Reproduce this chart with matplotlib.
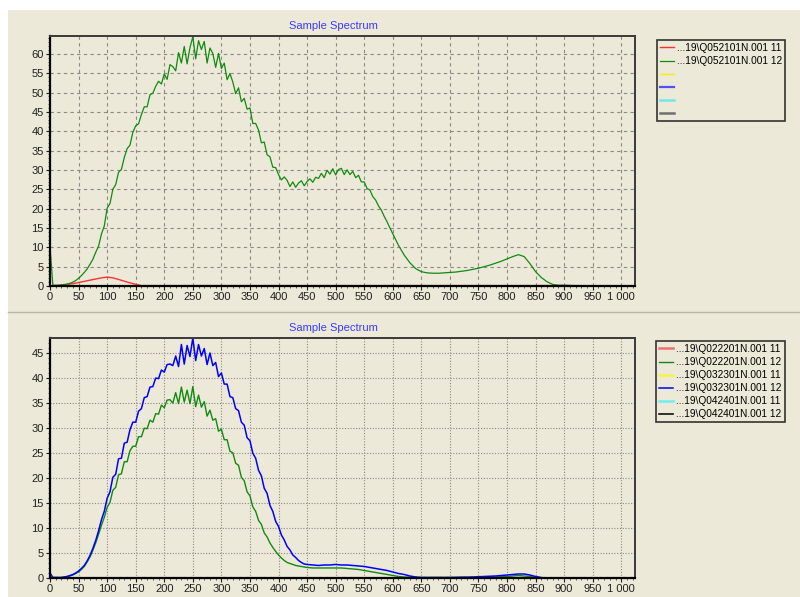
#!/usr/bin/env python3
"""Two stacked 'Sample Spectrum' panels, redrawn from a screenshot."""

import matplotlib

matplotlib.use("Agg")
import matplotlib.pyplot as plt
from matplotlib.patches import Rectangle
from matplotlib.lines import Line2D
from matplotlib.ticker import MultipleLocator, FuncFormatter

BEIGE = "#ECE9D8"

# ---------------------------------------------------------------- top panel
top_green_x = list(range(0, 605, 5)) + list(range(610, 910, 10)) + [920, 940, 960, 980, 1000, 1020]
top_green_y = [
    10.0, 0.2, 0.2, 0.2, 0.3, 0.4, 0.5, 0.7, 1.0, 1.4,
    2.0, 2.7, 3.5, 4.4, 5.6, 6.9, 8.7, 10.3, 13.4, 15.5,
    20.1, 21.3, 25.0, 26.2, 29.4, 30.1, 33.2, 35.5, 36.4, 39.7,
    41.4, 41.9, 44.3, 46.3, 46.3, 49.4, 49.8, 51.6, 52.9, 52.2,
    54.8, 53.4, 57.2, 56.7, 55.6, 60.3, 57.6, 61.9, 57.4, 61.6,
    64.4, 58.7, 63.4, 61.1, 63.2, 57.6, 61.5, 60.1, 56.5, 60.1,
    56.2, 57.6, 53.3, 54.9, 52.7, 49.7, 51.2, 47.6, 48.5, 45.7,
    46.0, 42.0, 42.0, 40.3, 37.0, 37.2, 33.9, 33.4, 30.7, 30.6,
    28.8, 27.4, 28.2, 27.3, 25.7, 26.9, 25.5, 26.6, 27.2, 25.9,
    27.0, 27.7, 26.8, 28.1, 27.8, 29.1, 28.0, 29.9, 28.9, 30.3,
    28.7, 30.1, 30.4, 28.8, 30.0, 28.8, 29.6, 28.0, 28.6, 26.9,
    26.9, 25.2, 24.8, 23.1, 22.2, 20.7, 19.6, 18.0, 16.6, 15.0,
    13.5,
    10.5, 8.0, 6.0, 4.5, 3.7, 3.4, 3.3, 3.3, 3.4, 3.5,
    3.6, 3.8, 4.0, 4.3, 4.6, 5.0, 5.4, 5.9, 6.4, 7.0,
    7.6, 8.1, 7.6, 5.8, 3.7, 2.2, 1.1, 0.4, 0.2, 0.2,
    0.1, 0.1, 0.1, 0.1, 0.1, 0.1,
]
top_red_x = [0, 20, 40, 60, 80, 90, 100, 110, 120, 140, 160, 180, 930]
top_red_y = [0.0, 0.2, 0.6, 1.2, 1.8, 2.1, 2.3, 2.1, 1.7, 0.8, 0.1, 0.1, 0.1]
top_gray_x = [0, 170]
top_gray_y = [0.0, 0.0]
top_labels = ["...19\\Q052101N.001 11", "...19\\Q052101N.001 12", "", "", "", ""]

# ------------------------------------------------------------- bottom panel
bot_blue_x = list(range(0, 455, 5)) + list(range(460, 660, 10)) + [700, 740, 760, 780, 800, 810, 820, 830, 840, 850, 860]
bot_blue_y = [
    1.0, 0.1, 0.1, 0.1, 0.1, 0.2, 0.3, 0.5, 0.7, 1.0,
    1.4, 1.9, 2.5, 3.4, 4.5, 5.9, 7.5, 9.4, 11.6, 13.3,
    15.9, 17.2, 20.1, 20.7, 23.8, 23.9, 26.9, 27.1, 29.6, 31.1,
    31.1, 33.3, 33.8, 36.0, 36.2, 38.1, 38.2, 39.9, 39.8, 41.5,
    41.1, 42.6, 42.7, 42.4, 44.3, 42.2, 46.6, 42.7, 46.4, 44.2,
    47.9, 43.4, 46.6, 44.3, 45.8, 42.6, 44.9, 42.4, 43.0, 40.2,
    40.9, 38.7, 38.7, 36.2, 36.0, 33.8, 33.4, 31.1, 30.5, 28.0,
    27.4, 24.9, 23.9, 21.5, 20.4, 17.9, 16.9, 14.5, 13.3, 11.3,
    10.3, 8.6, 7.6, 6.3, 5.6, 4.6, 4.1, 3.5, 3.1, 2.8,
    2.7,
    2.6, 2.5, 2.6, 2.6, 2.7, 2.6, 2.6, 2.5, 2.4, 2.3,
    2.1, 1.9, 1.7, 1.5, 1.2, 0.9, 0.7, 0.4, 0.2, 0.1,
    0.1, 0.2, 0.3, 0.4, 0.6, 0.7, 0.8, 0.8, 0.6, 0.3, 0.1,
]
bot_green_x = list(range(0, 455, 5)) + list(range(460, 630, 10)) + [640, 700, 760, 780, 800, 810, 820, 830, 840, 850, 860]
bot_green_y = [
    0.1, 0.1, 0.1, 0.1, 0.1, 0.2, 0.3, 0.4, 0.6, 0.9,
    1.2, 1.7, 2.3, 3.2, 4.2, 5.5, 7.0, 8.7, 10.5, 12.1,
    14.1, 15.1, 17.5, 18.1, 20.6, 20.8, 23.2, 23.2, 25.4, 26.3,
    26.3, 28.2, 28.2, 29.9, 29.8, 31.5, 31.1, 32.8, 32.7, 34.5,
    34.0, 35.5, 35.6, 34.9, 37.0, 34.8, 38.1, 35.1, 37.5, 34.8,
    38.2, 34.2, 36.5, 34.1, 35.2, 32.3, 33.5, 31.5, 31.8, 29.3,
    29.7, 27.6, 27.6, 25.3, 25.0, 22.9, 22.5, 20.1, 19.4, 17.2,
    16.4, 14.2, 13.3, 11.5, 10.7, 9.0, 8.2, 7.0, 6.1, 5.3,
    4.6, 4.0, 3.5, 3.1, 2.9, 2.7, 2.5, 2.4, 2.3, 2.2,
    2.1,
    2.0, 2.0, 2.0, 2.0, 2.0, 2.0, 1.9, 1.8, 1.7, 1.5,
    1.3, 1.1, 0.9, 0.7, 0.5, 0.3, 0.2,
    0.1, 0.1, 0.1, 0.2, 0.3, 0.4, 0.5, 0.4, 0.3, 0.1, 0.0,
]
bot_flat_x = [0, 1020]
bot_flat_y = [0.0, 0.0]
bot_labels = [
    "...19\\Q022201N.001 11",
    "...19\\Q022201N.001 12",
    "...19\\Q032301N.001 11",
    "...19\\Q032301N.001 12",
    "...19\\Q042401N.001 11",
    "...19\\Q042401N.001 12",
]


def _thousands(v, _pos):
    return f"{int(v):,}".replace(",", " ")


def _style_axes(ax, ymax, grid_dash):
    ax.set_facecolor(BEIGE)
    ax.set_xlim(0, 1024)
    ax.set_ylim(0, ymax)
    ax.xaxis.set_major_locator(MultipleLocator(50))
    ax.xaxis.set_minor_locator(MultipleLocator(10))
    ax.yaxis.set_major_locator(MultipleLocator(5))
    ax.yaxis.set_minor_locator(MultipleLocator(1))
    ax.xaxis.set_major_formatter(FuncFormatter(_thousands))
    ax.tick_params(which="major", direction="out", length=3, width=0.8,
                   labelsize=8, colors="#202020", pad=1.5)
    ax.tick_params(which="minor", direction="out", length=1.5, width=0.6, colors="#404040")
    ax.grid(True, which="major", color="#8a8a8a", linewidth=0.8, linestyle=(0, grid_dash))
    for side in ("left", "bottom"):
        ax.spines[side].set_color("black")
        ax.spines[side].set_linewidth(1.6)
    for side in ("top", "right"):
        ax.spines[side].set_color("#3a3a3a")
        ax.spines[side].set_linewidth(1.4)


def _legend(fig, handles, labels, x_px, y_px):
    leg = fig.legend(
        handles, labels,
        loc="upper left",
        bbox_to_anchor=(x_px / 800, 1 - y_px / 597),
        prop={"family": "Liberation Sans", "size": 7.3},
        frameon=True, fancybox=False, framealpha=1,
        facecolor=BEIGE, edgecolor="#333333",
        handlelength=1.35, handletextpad=0.35,
        labelspacing=0.3, borderpad=0.3, borderaxespad=0,
    )
    leg.get_frame().set_linewidth(1.2)
    return leg


def main():
    plt.rcParams["font.family"] = ["Liberation Sans", "DejaVu Sans"]
    fig = plt.figure(figsize=(8.0, 5.97), dpi=100, facecolor="white")

    # window background: beige panels with a thin separator between them
    fig.patches.append(Rectangle((8 / 800, 0), 1, 1 - 10 / 597, transform=fig.transFigure,
                                 facecolor=BEIGE, edgecolor="none", zorder=-10))
    fig.add_artist(Line2D([8 / 800, 1], [1 - 312 / 597] * 2, transform=fig.transFigure,
                          color="#b8b6aa", linewidth=1.0))

    # top panel
    ax1 = fig.add_axes([50 / 800, 1 - 286 / 597, 585 / 800, 250 / 597])
    _style_axes(ax1, 64.6, (3, 3))
    h_red = ax1.plot(top_red_x, top_red_y, color="#ff3030", linewidth=1.0)[0]
    h_green = ax1.plot(top_green_x, top_green_y, color="#118a11", linewidth=0.9)[0]
    h_yel = ax1.plot([], [], color="#f2f200", linewidth=1.0)[0]
    h_blue = ax1.plot([], [], color="#5050ff", linewidth=1.6)[0]
    h_cyan = ax1.plot([], [], color="#70e8e8", linewidth=1.8)[0]
    h_gray = ax1.plot(top_gray_x, top_gray_y, color="#707070", linewidth=1.8)[0]
    fig.text(333 / 800, 1 - 26 / 597, "Sample Spectrum", color="#3a3aff",
             fontsize=8, ha="center", va="center")
    _legend(fig, [h_red, h_green, h_yel, h_blue, h_cyan, h_gray], top_labels, 657, 40)

    # bottom panel
    ax2 = fig.add_axes([50 / 800, 1 - 578 / 597, 585 / 800, 240 / 597])
    _style_axes(ax2, 47.9, (1, 1.5))
    b_red = ax2.plot(bot_flat_x, bot_flat_y, color="#f07070", linewidth=1.8)[0]
    b_yel = ax2.plot(bot_flat_x, bot_flat_y, color="#f5f540", linewidth=1.8)[0]
    b_cyan = ax2.plot(bot_flat_x, bot_flat_y, color="#70eeee", linewidth=1.8)[0]
    b_black = ax2.plot(bot_flat_x, bot_flat_y, color="#101010", linewidth=1.2)[0]
    b_green = ax2.plot(bot_green_x, bot_green_y, color="#118a11", linewidth=1.0)[0]
    b_blue = ax2.plot(bot_blue_x, bot_blue_y, color="#0000ff", linewidth=1.1)[0]
    fig.text(333 / 800, 1 - 328 / 597, "Sample Spectrum", color="#3a3aff",
             fontsize=8, ha="center", va="center")
    _legend(fig, [b_red, b_green, b_yel, b_blue, b_cyan, b_black], bot_labels, 656, 341)

    fig.savefig("out.png", dpi=100, facecolor=fig.get_facecolor())


if __name__ == "__main__":
    main()
